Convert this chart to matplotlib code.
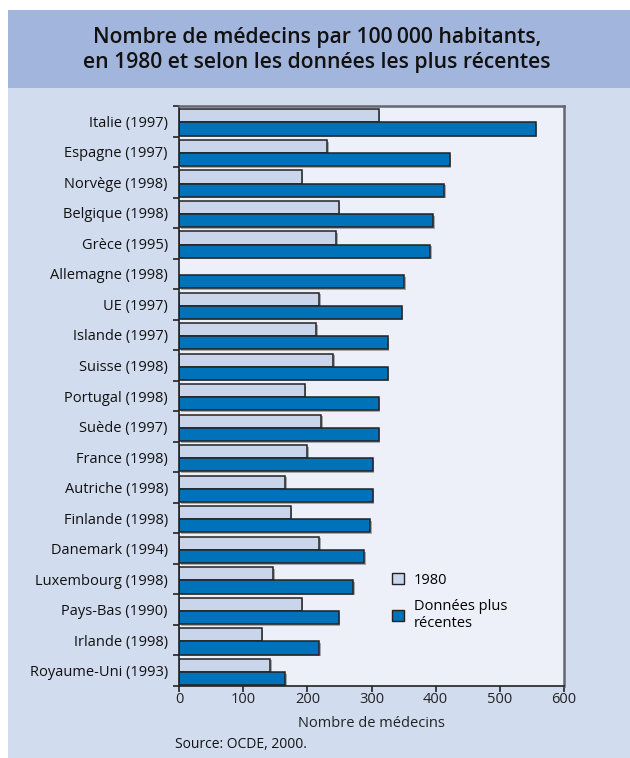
import matplotlib
matplotlib.use("Agg")
import matplotlib.pyplot as plt
from matplotlib.patches import Rectangle
import matplotlib.patheffects as pe
import numpy as np

plt.rcParams['font.family'] = ['Open Sans', 'DejaVu Sans']

countries = ["Italie (1997)", "Espagne (1997)", "Norvège (1998)", "Belgique (1998)",
             "Grèce (1995)", "Allemagne (1998)", "UE (1997)", "Islande (1997)",
             "Suisse (1998)", "Portugal (1998)", "Suède (1997)", "France (1998)",
             "Autriche (1998)", "Finlande (1998)", "Danemark (1994)",
             "Luxembourg (1998)", "Pays-Bas (1990)", "Irlande (1998)",
             "Royaume-Uni (1993)"]
val_1980 = [311, 231, 191, 249, 245, np.nan, 218, 214, 240, 196, 222, 200,
            165, 174, 218, 147, 191, 129, 142]
val_recent = [556, 422, 413, 396, 391, 351, 347, 325, 325, 311, 311, 302,
              302, 298, 289, 271, 249, 218, 165]
xticks = [0, 100, 200, 300, 400, 500, 600]

W, H = 630, 758
fig = plt.figure(figsize=(W / 100, H / 100), dpi=100)

c_band = "#a2b6dd"
c_body = "#d1dcee"
c_plot = "#edf0f8"
c_light = "#c9d5eb"
c_dark = "#0072ba"

# background panel and title band
bg = fig.add_axes([0, 0, 1, 1])
bg.set_xlim(0, W)
bg.set_ylim(H, 0)
bg.axis("off")
bg.add_patch(Rectangle((8, 10), W - 8, H - 10, facecolor=c_body, edgecolor="none"))
bg.add_patch(Rectangle((8, 10), W - 8, 78, facecolor=c_band, edgecolor="none"))
bg.text(317, 50, "Nombre de médecins par 100\u2009000 habitants,\n"
        "en 1980 et selon les données les plus récentes",
        ha="center", va="center", fontsize=15.2, fontweight="semibold",
        color="#111111", linespacing=1.22)
bg.text(175, 744, "Source: OCDE, 2000.", ha="left", va="center",
        fontsize=10, color="#111111")

# plot area
x0, x1, y0, y1 = 179, 564, 106, 686
ax = fig.add_axes([x0 / W, 1 - y1 / H, (x1 - x0) / W, (y1 - y0) / H])
ax.set_facecolor(c_plot)

n = len(countries)
pos = np.arange(n)
h = 0.43
shadow = [pe.SimplePatchShadow(offset=(1.2, -1.2), shadow_rgbFace="#888888", alpha=0.7),
          pe.Normal()]
b1 = ax.barh(pos - h / 2 + 0.04, val_1980, height=h, color=c_light,
             edgecolor="#222222", linewidth=1.1, label="1980")
b2 = ax.barh(pos + h / 2 + 0.04, val_recent, height=h, color=c_dark,
             edgecolor="#222222", linewidth=1.1, label="Données plus\nrécentes")
for b in list(b1) + list(b2):
    b.set_path_effects(shadow)

ax.set_xlim(0, 600)
ax.set_ylim(n - 0.5, -0.5)
ax.set_xticks(xticks)
ax.set_xticklabels([str(t) for t in xticks], fontsize=10.5, color="#222222")
ax.set_yticks(pos)
ax.set_yticklabels(countries, fontsize=10.5, color="#111111")
ax.set_yticks(np.arange(-0.5, n, 1.0), minor=True)
ax.tick_params(axis="y", which="major", length=0, pad=8)
ax.tick_params(axis="y", which="minor", length=4, width=1.2, color="#222222")
ax.tick_params(axis="x", length=4, width=1.2, color="#222222", pad=0.5)
ax.set_xlabel("Nombre de médecins", fontsize=10.5, color="#222222", labelpad=6)

for s in ["left", "bottom"]:
    ax.spines[s].set_color("#222222")
    ax.spines[s].set_linewidth(1.2)
for s in ["top", "right"]:
    ax.spines[s].set_color("#666670")
    ax.spines[s].set_linewidth(1.8)

leg = ax.legend(loc="upper left", bbox_to_anchor=(0.538, 0.205), frameon=False,
                fontsize=10.5, handlelength=0.8, handleheight=0.8,
                handletextpad=0.7, labelspacing=0.75, borderaxespad=0)
for hd in leg.legend_handles:
    hd.set_path_effects([])
    hd.set_linewidth(1.0)

fig.savefig("out.png", dpi=100, facecolor="white")
